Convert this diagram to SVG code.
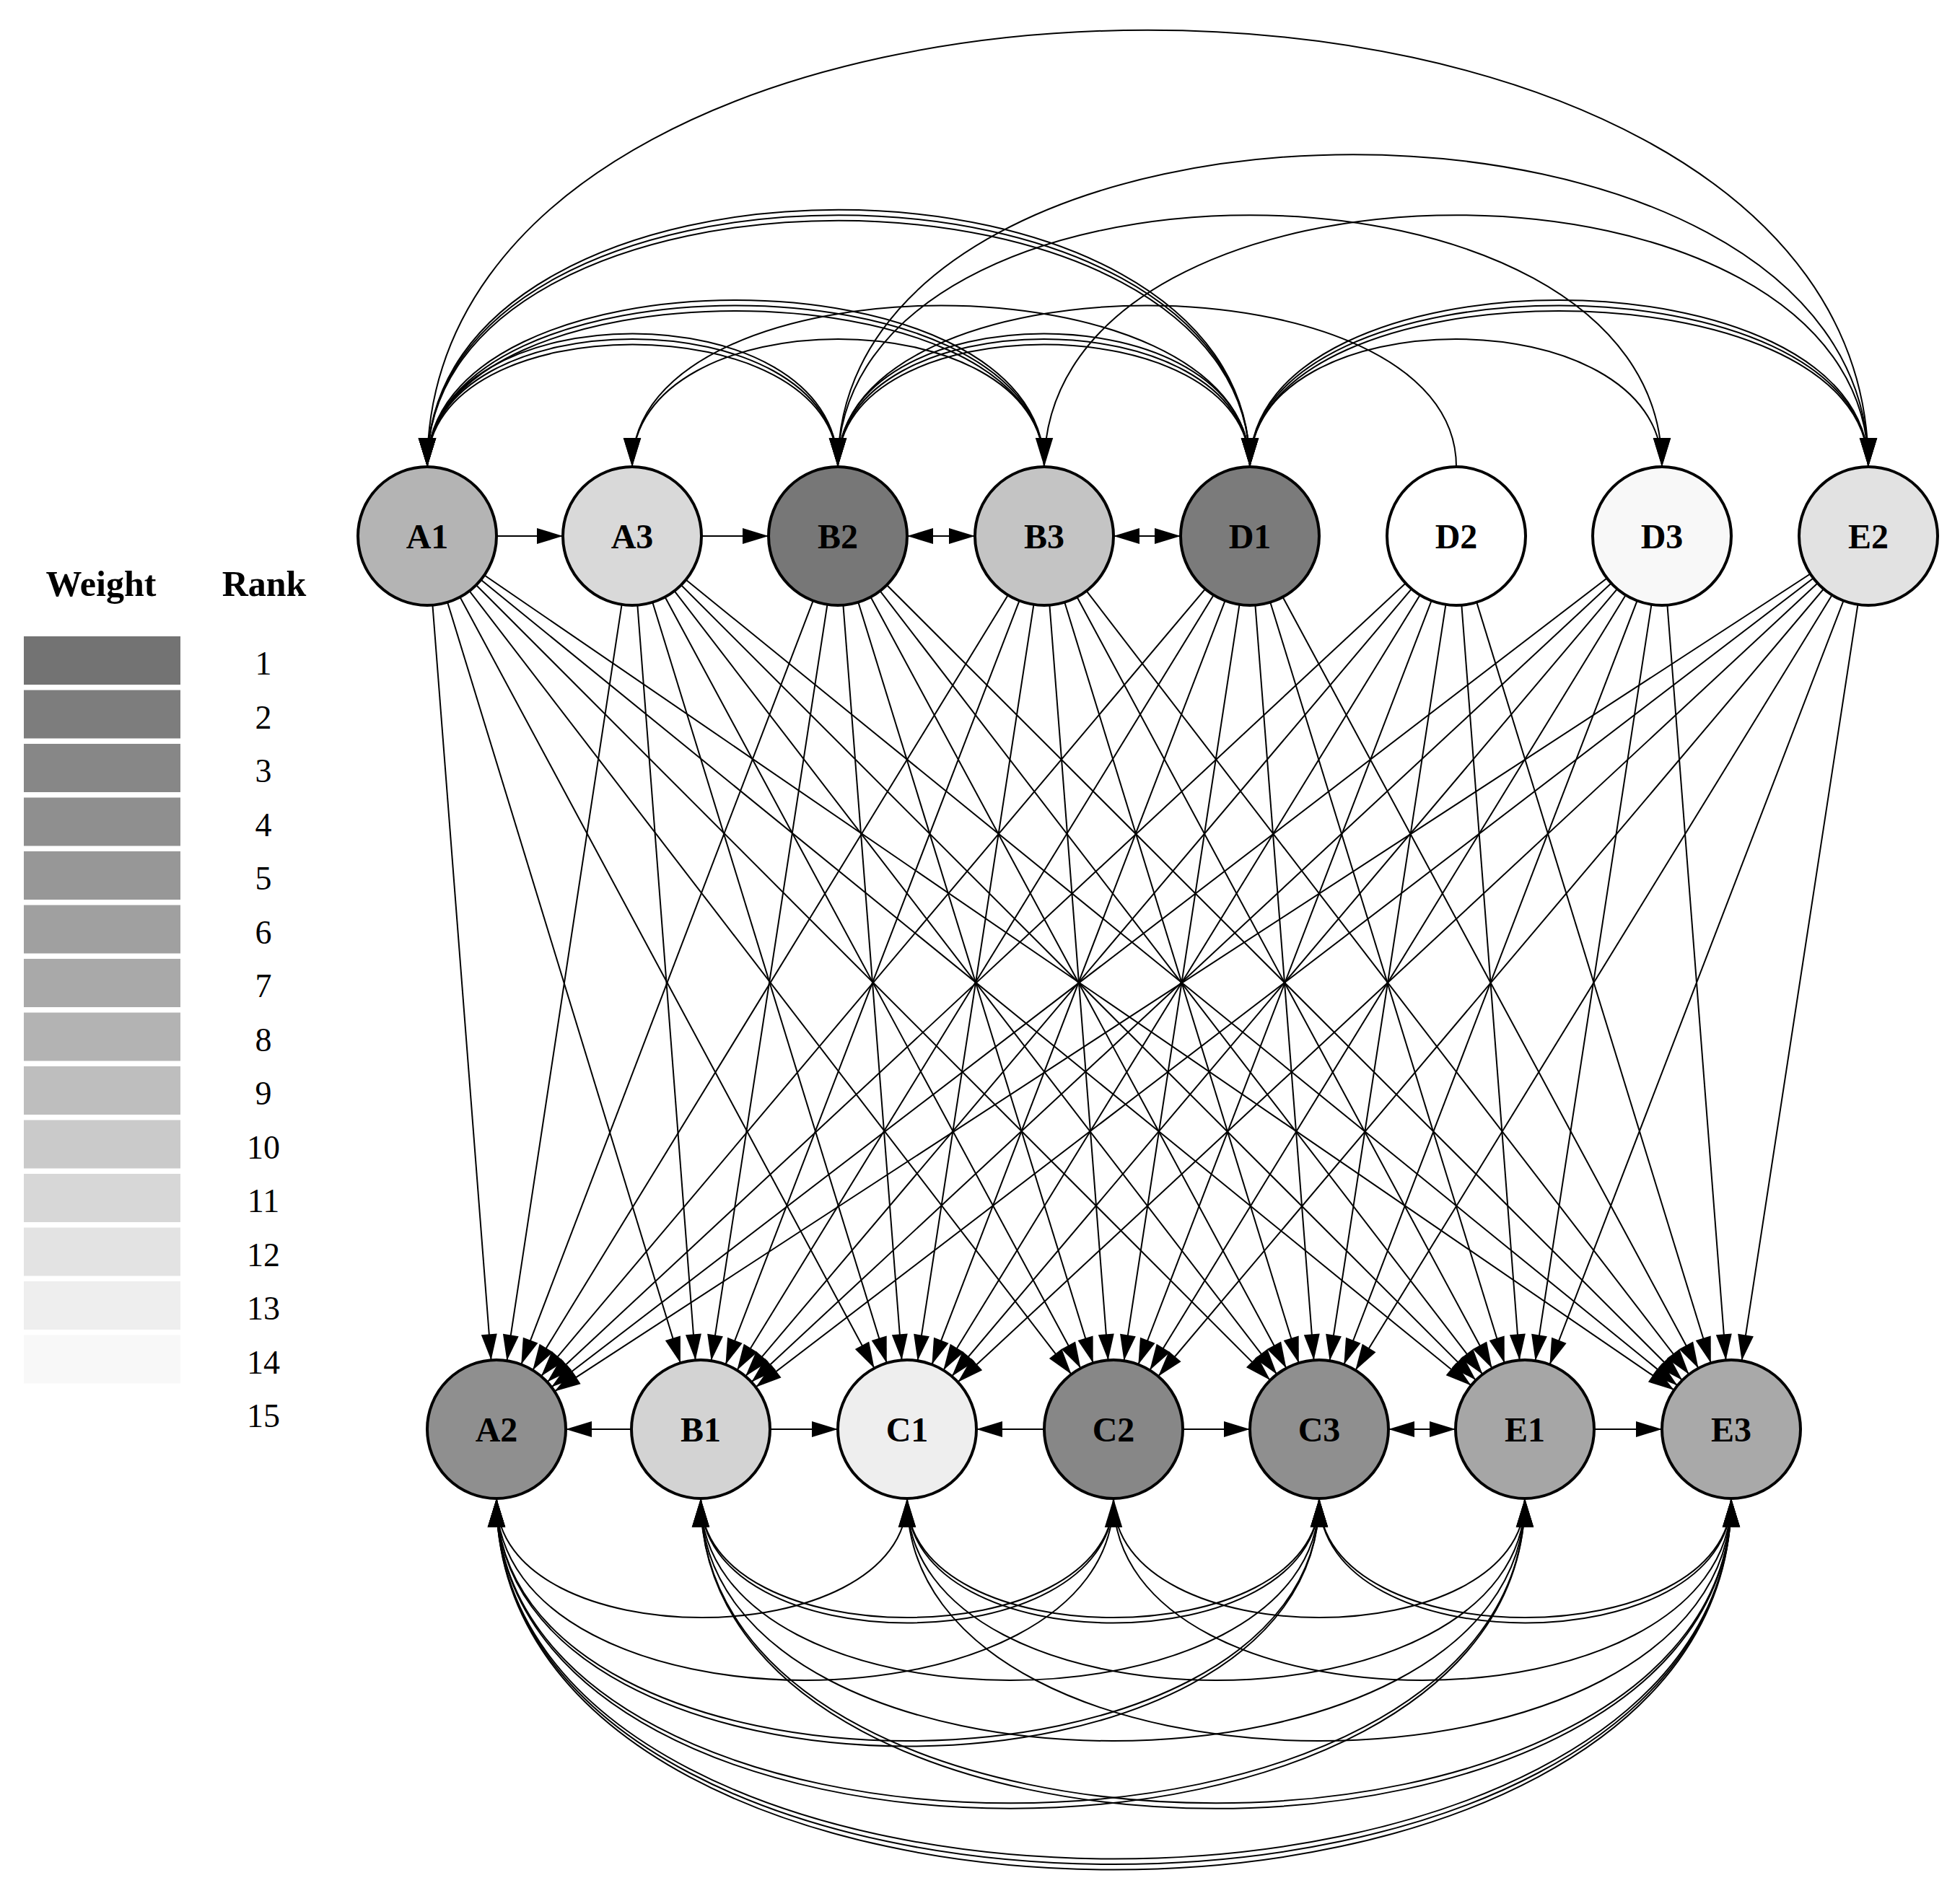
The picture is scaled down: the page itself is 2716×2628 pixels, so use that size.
<svg xmlns="http://www.w3.org/2000/svg" width="2716" height="2628" viewBox="0 0 2716 2628">
<style>
.e{fill:none;stroke:#000;stroke-width:2}
.f{marker-end:url(#af)}
.a{marker-end:url(#a)}
.d{marker-start:url(#af);marker-end:url(#af)}
.n{stroke:#000;stroke-width:4}
.t{font-family:"Liberation Serif","DejaVu Serif",serif;font-weight:bold;font-size:48px;text-anchor:middle}
.r{font-family:"Liberation Serif","DejaVu Serif",serif;font-size:46px;text-anchor:middle}
.h{font-family:"Liberation Serif","DejaVu Serif",serif;font-weight:bold;font-size:50px;text-anchor:middle}
</style>
<defs>
<marker id="a" markerUnits="userSpaceOnUse" markerWidth="40" markerHeight="30" viewBox="0 0 36 22" refX="36" refY="11" orient="auto"><path d="M0 0L36 11L0 22Z"/></marker>
<marker id="af" markerUnits="userSpaceOnUse" markerWidth="140" markerHeight="30" viewBox="0 0 140 22" refX="134" refY="11" orient="auto-start-reverse"><path d="M2 0L38 11L2 22Z"/></marker>
</defs>
<g id="legend">
<text class="h" x="140" y="826">Weight</text>
<text class="h" x="366" y="826">Rank</text>
<rect x="33" y="882" width="217" height="67" fill="#737373"/>
<rect x="33" y="956.5" width="217" height="67" fill="#7d7d7d"/>
<rect x="33" y="1031" width="217" height="67" fill="#878787"/>
<rect x="33" y="1105.5" width="217" height="67" fill="#8f8f8f"/>
<rect x="33" y="1180" width="217" height="67" fill="#979797"/>
<rect x="33" y="1254.5" width="217" height="67" fill="#a0a0a0"/>
<rect x="33" y="1329" width="217" height="67" fill="#a9a9a9"/>
<rect x="33" y="1403.5" width="217" height="67" fill="#b3b3b3"/>
<rect x="33" y="1478" width="217" height="67" fill="#bebebe"/>
<rect x="33" y="1552.5" width="217" height="67" fill="#cacaca"/>
<rect x="33" y="1627" width="217" height="67" fill="#d7d7d7"/>
<rect x="33" y="1701.5" width="217" height="67" fill="#e3e3e3"/>
<rect x="33" y="1776" width="217" height="67" fill="#eeeeee"/>
<rect x="33" y="1850.5" width="217" height="67" fill="#f8f8f8"/>
<text class="r" x="365" y="935">1</text>
<text class="r" x="365" y="1009.5">2</text>
<text class="r" x="365" y="1084">3</text>
<text class="r" x="365" y="1158.5">4</text>
<text class="r" x="365" y="1233">5</text>
<text class="r" x="365" y="1307.5">6</text>
<text class="r" x="365" y="1382">7</text>
<text class="r" x="365" y="1456.5">8</text>
<text class="r" x="365" y="1531">9</text>
<text class="r" x="365" y="1605.5">10</text>
<text class="r" x="365" y="1680">11</text>
<text class="r" x="365" y="1754.5">12</text>
<text class="r" x="365" y="1829">13</text>
<text class="r" x="365" y="1903.5">14</text>
<text class="r" x="365" y="1978">15</text>
</g>
<g id="connectors">
<g class="e f">
<path d="M592 743L688 1981"/><path d="M592 743L971 1981"/><path d="M592 743L1257 1981"/><path d="M592 743L1543 1981"/><path d="M592 743L1828 1981"/><path d="M592 743L2113 1981"/><path d="M592 743L2399 1981"/>
<path d="M876 743L688 1981"/><path d="M876 743L971 1981"/><path d="M876 743L1257 1981"/><path d="M876 743L1543 1981"/><path d="M876 743L1828 1981"/><path d="M876 743L2113 1981"/><path d="M876 743L2399 1981"/>
<path d="M1161 743L688 1981"/><path d="M1161 743L971 1981"/><path d="M1161 743L1257 1981"/><path d="M1161 743L1543 1981"/><path d="M1161 743L1828 1981"/><path d="M1161 743L2113 1981"/><path d="M1161 743L2399 1981"/>
<path d="M1447 743L688 1981"/><path d="M1447 743L971 1981"/><path d="M1447 743L1257 1981"/><path d="M1447 743L1543 1981"/><path d="M1447 743L1828 1981"/><path d="M1447 743L2113 1981"/><path d="M1447 743L2399 1981"/>
<path d="M1732 743L688 1981"/><path d="M1732 743L971 1981"/><path d="M1732 743L1257 1981"/><path d="M1732 743L1543 1981"/><path d="M1732 743L1828 1981"/><path d="M1732 743L2113 1981"/><path d="M1732 743L2399 1981"/>
<path d="M2018 743L688 1981"/><path d="M2018 743L971 1981"/><path d="M2018 743L1257 1981"/><path d="M2018 743L1543 1981"/><path d="M2018 743L1828 1981"/><path d="M2018 743L2113 1981"/><path d="M2018 743L2399 1981"/>
<path d="M2303 743L688 1981"/><path d="M2303 743L971 1981"/><path d="M2303 743L1257 1981"/><path d="M2303 743L1543 1981"/><path d="M2303 743L1828 1981"/><path d="M2303 743L2113 1981"/><path d="M2303 743L2399 1981"/>
<path d="M2589 743L688 1981"/><path d="M2589 743L971 1981"/><path d="M2589 743L1257 1981"/><path d="M2589 743L1543 1981"/><path d="M2589 743L1828 1981"/><path d="M2589 743L2113 1981"/><path d="M2589 743L2399 1981"/>
<path d="M592 743L876 743"/><path d="M876 743L1161 743"/>
<path d="M971 1981L688 1981"/><path d="M971 1981L1257 1981"/><path d="M1543 1981L1257 1981"/><path d="M1543 1981L1828 1981"/><path d="M2113 1981L2399 1981"/>
</g>
<g class="e d">
<path d="M1161 743L1447 743"/><path d="M1447 743L1732 743"/><path d="M1828 1981L2113 1981"/>
</g>
<g class="e a">
<path d="M1161 647C1161 411 592 411 592 647"/>
<path d="M592 647C592 401 1161 401 1161 647"/>
<path d="M1161 647C1161 421 592 421 592 647"/>
<path d="M1447 647C1447 411 876 411 876 647"/>
<path d="M1732 647C1732 411 1161 411 1161 647"/>
<path d="M1161 647C1161 401 1732 401 1732 647"/>
<path d="M1732 647C1732 421 1161 421 1161 647"/>
<path d="M1732 647C1732 411 2303 411 2303 647"/>
<path d="M1447 647C1447 349 592 349 592 647"/>
<path d="M592 647C592 339 1447 339 1447 647"/>
<path d="M1447 647C1447 359 592 359 592 647"/>
<path d="M1732 647C1732 349 876 349 876 647"/>
<path d="M2018 647C2018 349 1161 349 1161 647"/>
<path d="M2589 647C2589 349 1732 349 1732 647"/>
<path d="M1732 647C1732 339 2589 339 2589 647"/>
<path d="M2589 647C2589 359 1732 359 1732 647"/>
<path d="M1732 647C1732 172 592 172 592 647"/>
<path d="M592 647C592 182 1732 182 1732 647"/>
<path d="M1732 647C1732 192 592 192 592 647"/>
<path d="M1161 647C1161 182 2303 182 2303 647"/>
<path d="M1447 647C1447 182 2589 182 2589 647"/>
<path d="M1161 647C1161 70 2589 70 2589 647"/>
<path d="M2589 647C2589 -160 592 -160 592 647"/>
<path d="M1257 2077C1257 2297 688 2297 688 2077"/>
<path d="M971 2077C971 2297 1543 2297 1543 2077"/>
<path d="M1543 2077C1543 2307 971 2307 971 2077"/>
<path d="M1257 2077C1257 2297 1828 2297 1828 2077"/>
<path d="M1828 2077C1828 2307 1257 2307 1257 2077"/>
<path d="M1543 2077C1543 2297 2113 2297 2113 2077"/>
<path d="M1828 2077C1828 2297 2399 2297 2399 2077"/>
<path d="M2399 2077C2399 2307 1828 2307 1828 2077"/>
<path d="M1543 2077C1543 2413 688 2413 688 2077"/>
<path d="M971 2077C971 2413 1828 2413 1828 2077"/>
<path d="M1257 2077C1257 2413 2113 2413 2113 2077"/>
<path d="M1543 2077C1543 2413 2399 2413 2399 2077"/>
<path d="M1828 2077C1828 2525 688 2525 688 2077"/>
<path d="M688 2077C688 2535 1828 2535 1828 2077"/>
<path d="M2113 2077C2113 2525 971 2525 971 2077"/>
<path d="M2399 2077C2399 2525 1257 2525 1257 2077"/>
<path d="M2113 2077C2113 2640 688 2640 688 2077"/>
<path d="M688 2077C688 2650 2113 2650 2113 2077"/>
<path d="M2399 2077C2399 2640 971 2640 971 2077"/>
<path d="M971 2077C971 2650 2399 2650 2399 2077"/>
<path d="M2399 2077C2399 2753 688 2753 688 2077"/>
<path d="M688 2077C688 2743 2399 2743 2399 2077"/>
<path d="M2399 2077C2399 2763 688 2763 688 2077"/>
</g>
</g>
<g id="A1"><circle class="n" cx="592" cy="743" r="96" fill="#b4b4b4"/><text class="t" x="592" y="760">A1</text></g>
<g id="A3"><circle class="n" cx="876" cy="743" r="96" fill="#d9d9d9"/><text class="t" x="876" y="760">A3</text></g>
<g id="B2"><circle class="n" cx="1161" cy="743" r="96" fill="#777777"/><text class="t" x="1161" y="760">B2</text></g>
<g id="B3"><circle class="n" cx="1447" cy="743" r="96" fill="#c4c4c4"/><text class="t" x="1447" y="760">B3</text></g>
<g id="D1"><circle class="n" cx="1732" cy="743" r="96" fill="#7b7b7b"/><text class="t" x="1732" y="760">D1</text></g>
<g id="D2"><circle class="n" cx="2018" cy="743" r="96" fill="#ffffff"/><text class="t" x="2018" y="760">D2</text></g>
<g id="D3"><circle class="n" cx="2303" cy="743" r="96" fill="#f8f8f8"/><text class="t" x="2303" y="760">D3</text></g>
<g id="E2"><circle class="n" cx="2589" cy="743" r="96" fill="#e2e2e2"/><text class="t" x="2589" y="760">E2</text></g>
<g id="A2"><circle class="n" cx="688" cy="1981" r="96" fill="#8f8f8f"/><text class="t" x="688" y="1998">A2</text></g>
<g id="B1"><circle class="n" cx="971" cy="1981" r="96" fill="#d3d3d3"/><text class="t" x="971" y="1998">B1</text></g>
<g id="C1"><circle class="n" cx="1257" cy="1981" r="96" fill="#eeeeee"/><text class="t" x="1257" y="1998">C1</text></g>
<g id="C2"><circle class="n" cx="1543" cy="1981" r="96" fill="#878787"/><text class="t" x="1543" y="1998">C2</text></g>
<g id="C3"><circle class="n" cx="1828" cy="1981" r="96" fill="#8f8f8f"/><text class="t" x="1828" y="1998">C3</text></g>
<g id="E1"><circle class="n" cx="2113" cy="1981" r="96" fill="#a6a6a6"/><text class="t" x="2113" y="1998">E1</text></g>
<g id="E3"><circle class="n" cx="2399" cy="1981" r="96" fill="#a9a9a9"/><text class="t" x="2399" y="1998">E3</text></g>
</svg>
